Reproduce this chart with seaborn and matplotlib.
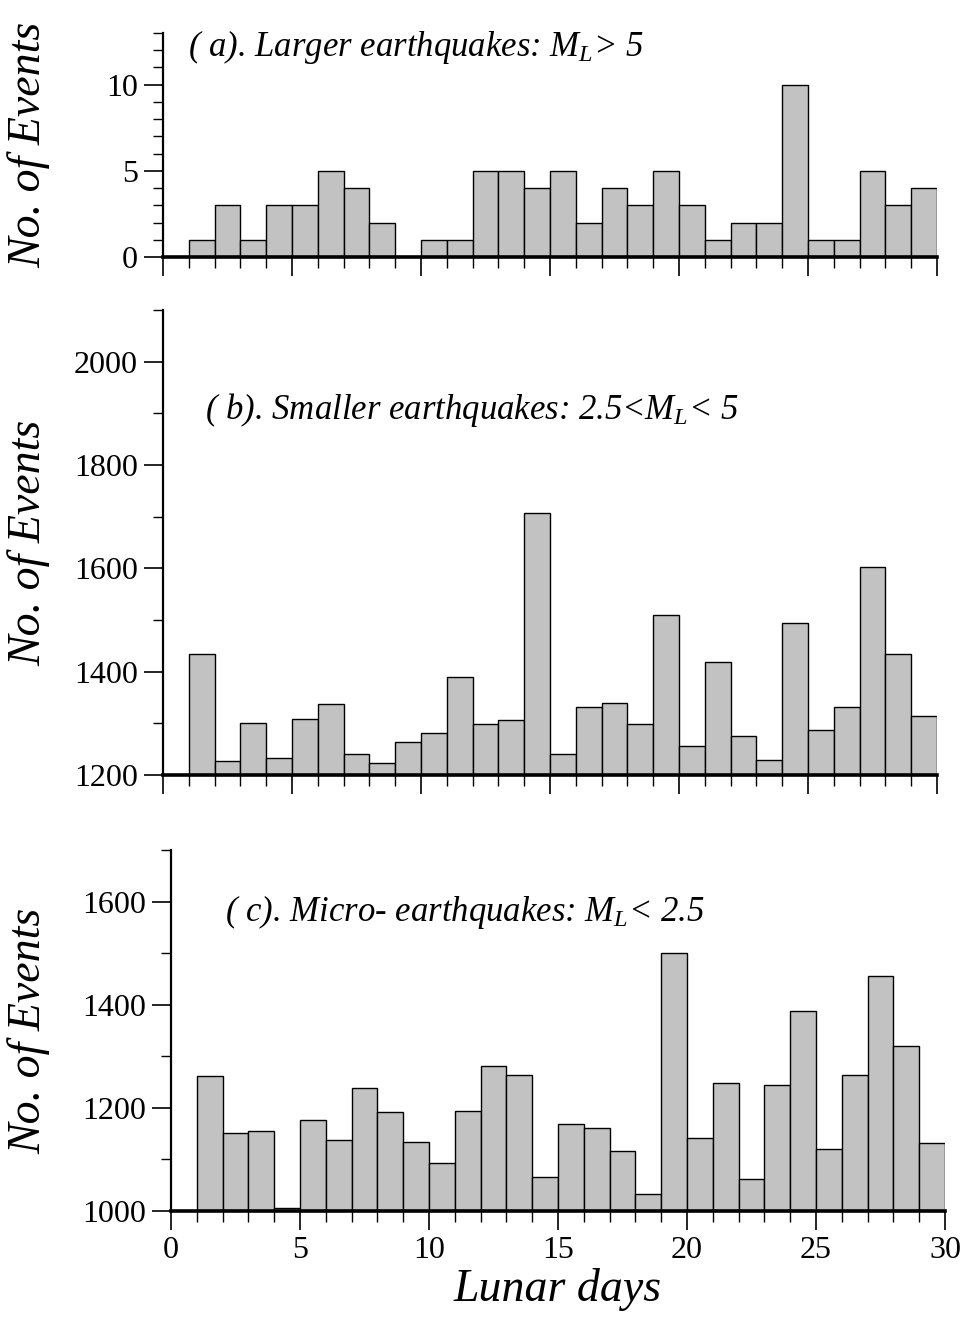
import numpy as np
import pandas as pd
import matplotlib
matplotlib.use("Agg")
import matplotlib.pyplot as plt
from matplotlib.ticker import MultipleLocator
import seaborn as sns

# lunar day at the start of each bin (bins are 1 day wide)
days = list(range(1, 30))

# (a) larger earthquakes, ML > 5
counts_large = [1, 3, 1, 3, 3, 5, 4, 2, 0, 1, 1, 5, 5, 4, 5, 2, 4, 3, 5, 3,
                1, 2, 2, 10, 1, 1, 5, 3, 4]
# (b) smaller earthquakes, 2.5 < ML < 5
counts_small = [1434, 1228, 1301, 1232, 1308, 1338, 1241, 1224, 1264, 1282,
                1390, 1299, 1306, 1707, 1241, 1332, 1339, 1298, 1510, 1256,
                1419, 1276, 1229, 1494, 1287, 1331, 1603, 1434, 1314]
# (c) micro-earthquakes, ML < 2.5
counts_micro = [1261, 1151, 1156, 1005, 1177, 1138, 1238, 1191, 1134, 1093,
                1193, 1281, 1264, 1065, 1168, 1161, 1117, 1033, 1500, 1141,
                1248, 1062, 1244, 1388, 1120, 1264, 1455, 1320, 1131]

titles = ["( a). Larger earthquakes: $M_L$> 5",
          "( b). Smaller earthquakes: 2.5<$M_L$< 5",
          "( c). Micro- earthquakes: $M_L$< 2.5"]

sns.set_style("ticks")
plt.rcParams["font.family"] = ["Liberation Serif", "DejaVu Serif"]
plt.rcParams["mathtext.fontset"] = "custom"
plt.rcParams["mathtext.rm"] = "Liberation Serif"
plt.rcParams["mathtext.it"] = "Liberation Serif:italic"
for key in ["text.color", "axes.labelcolor", "axes.edgecolor",
            "xtick.color", "ytick.color"]:
    plt.rcParams[key] = "black"

W, H = 968, 1317
fig = plt.figure(figsize=(W / 100, H / 100), dpi=100)


def px_axes(left, right, top, bottom):
    return fig.add_axes([left / W, 1 - bottom / H, (right - left) / W, (bottom - top) / H])


ax_a = px_axes(163, 937, 33, 257)
ax_b = px_axes(163, 937, 310, 775)
ax_c = px_axes(171, 945, 850, 1211)

panels = [
    (ax_a, counts_large, (0, 13), 5, 1, (0.032, 0.9375)),
    (ax_b, counts_small, (1200, 2100), 200, 100, (0.054, 0.785)),
    (ax_c, counts_micro, (1000, 1700), 200, 100, (0.07, 0.828)),
]

for i, (ax, counts, ylim, major, minor, tpos) in enumerate(panels):
    df = pd.DataFrame({"day": np.array(days, dtype=float) + 0.5,
                       "n": np.array(counts, dtype=float)})
    sns.histplot(data=df, x="day", weights="n", binwidth=1, binrange=(1, 30),
                 ax=ax, color="#c2c2c2", edgecolor="black", linewidth=1.0,
                 alpha=1.0)
    ax.set_xlim(0, 30)
    ax.set_ylim(*ylim)
    ax.xaxis.set_major_locator(MultipleLocator(5))
    ax.xaxis.set_minor_locator(MultipleLocator(1))
    ax.yaxis.set_major_locator(MultipleLocator(major))
    ax.yaxis.set_minor_locator(MultipleLocator(minor))
    for s in ["top", "right"]:
        ax.spines[s].set_visible(False)
    ax.spines["bottom"].set_linewidth(2.6)
    ax.spines["left"].set_linewidth(1.6)
    ax.tick_params(axis="x", which="major", direction="out", length=14, width=1.2,
                   labelsize=23, pad=4)
    ax.tick_params(axis="x", which="minor", direction="out", length=8, width=1.0)
    ax.tick_params(axis="y", which="major", direction="out", length=14, width=1.2,
                   labelsize=23, pad=4)
    ax.tick_params(axis="y", which="minor", direction="out", length=7, width=1.0)
    if i < 2:
        ax.tick_params(axis="x", labelbottom=False)
        ax.set_xlabel("")
    else:
        ax.set_xlabel("Lunar days", fontsize=33, style="italic", labelpad=2)
    ax.set_ylabel("No. of Events", fontsize=33, style="italic")
    ax.yaxis.set_label_coords(-0.146 if i < 2 else -0.156, 0.5)
    ax.text(tpos[0], tpos[1], titles[i], transform=ax.transAxes, fontsize=25,
            style="italic", ha="left", va="center")

fig.savefig("out.png", dpi=100)
